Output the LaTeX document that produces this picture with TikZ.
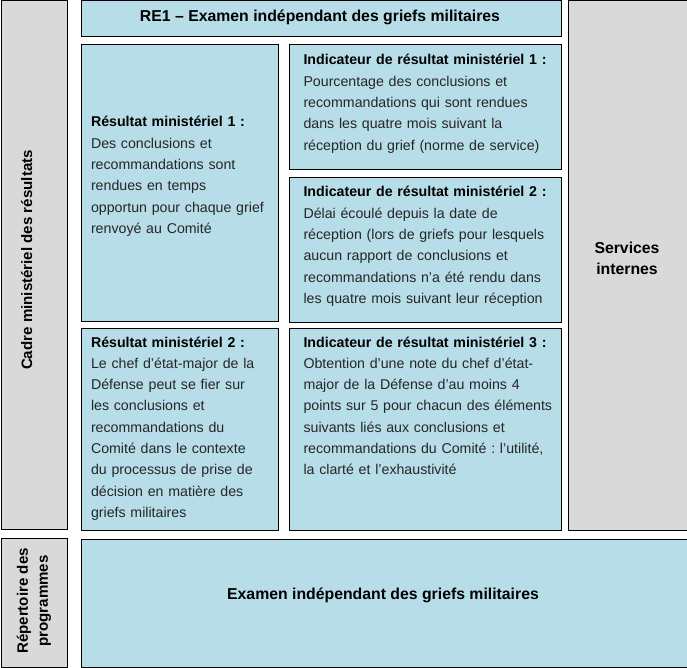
\documentclass[tikz,border=0pt]{standalone}
\usepackage{fontspec}
\setmainfont{Liberation Sans}
\frenchspacing
\definecolor{ciel}{HTML}{B7DDE8}
\definecolor{gris}{HTML}{D9D9D9}
\begin{document}
\begin{tikzpicture}[x=1pt, y=-1pt, line width=1pt,
    bleu/.style = {draw, fill=ciel, inner sep=0, anchor=north west},
    pale/.style = {draw, fill=gris, inner sep=0, anchor=north west},
    titre/.style = {font=\fontsize{15.8}{21}\selectfont\bfseries, inner sep=0},
    corps/.style = {font=\fontsize{14.2}{21.3}\selectfont, align=left, inner sep=0, anchor=base west, text=black!85}]
  \useasboundingbox (0,0) rectangle (687,668);
  % cases
  \node[pale, minimum width=66.5, minimum height=528] (1) at (0.5,0.5) {};
  \node[bleu, minimum width=480, minimum height=36] (2) at (80.5,0.5) {};
  \node[bleu, minimum width=197, minimum height=276] (3) at (80.5,44.5) {};
  \node[bleu, minimum width=272, minimum height=125] (4) at (288.5,44.5) {};
  \node[bleu, minimum width=272, minimum height=144] (5) at (288.5,177.5) {};
  \node[bleu, minimum width=197, minimum height=202] (6) at (80.5,327.5) {};
  \node[bleu, minimum width=272, minimum height=202] (7) at (288.5,327.5) {};
  \node[pale, minimum width=119, minimum height=529] (8) at (567.5,0.5) {};
  \node[pale, minimum width=66.5, minimum height=129] (9) at (0.5,537.5) {};
  \node[bleu, minimum width=606, minimum height=128.5] (10) at (80.5,538.5) {};
  % textes
  \node[titre, font=\fontsize{15.1}{20}\selectfont\bfseries, rotate=90, anchor=base] (1t) at (32,260) {Cadre ministériel des résultats};
  \node[titre, anchor=base] (2t) at (320,22) {RE1 -- Examen indépendant des griefs militaires};
  \node[corps, text width=190] (3t) at (90.5,127) {\textcolor{black}{\textbf{Résultat ministériel 1 :}}\\
    Des conclusions et\\ recommandations sont\\ rendues en temps\\ opportun pour chaque grief\\ renvoyé au Comité};
  \node[corps, text width=255] (4t) at (303,65) {\textcolor{black}{\textbf{Indicateur de résultat ministériel 1 :}}\\
    Pourcentage des conclusions et\\ recommandations qui sont rendues\\ dans les quatre mois suivant la\\ réception du grief (norme de service)};
  \node[corps, text width=255] (5t) at (303,197) {\textcolor{black}{\textbf{Indicateur de résultat ministériel 2 :}}\\
    Délai écoulé depuis la date de\\ réception (lors de griefs pour lesquels\\ aucun rapport de conclusions et\\ recommandations n’a été rendu dans\\ les quatre mois suivant leur réception};
  \node[corps, text width=190] (6t) at (90.5,347) {\textcolor{black}{\textbf{Résultat ministériel 2 :}}\\
    Le chef d’état-major de la\\ Défense peut se fier sur\\ les conclusions et\\ recommandations du\\ Comité dans le contexte\\ du processus de prise de\\ décision en matière des\\ griefs militaires};
  \node[corps, text width=255] (7t) at (303,347) {\textcolor{black}{\textbf{Indicateur de résultat ministériel 3 :}}\\
    Obtention d’une note du chef d’état-\\ major de la Défense d’au moins 4\\ points sur 5 pour chacun des éléments\\ suivants liés aux conclusions et\\ recommandations du Comité : l’utilité,\\ la clarté et l’exhaustivité};
  \node[titre, align=center, text width=110, anchor=base] (8t) at (627,253) {Services\\ internes};
  \node[titre, font=\fontsize{15.1}{20}\selectfont\bfseries, rotate=90, align=center] (9t) at (34,601) {Répertoire des\\ programmes};
  \node[titre, anchor=base] (10t) at (383,599) {Examen indépendant des griefs militaires};
\end{tikzpicture}
\end{document}
